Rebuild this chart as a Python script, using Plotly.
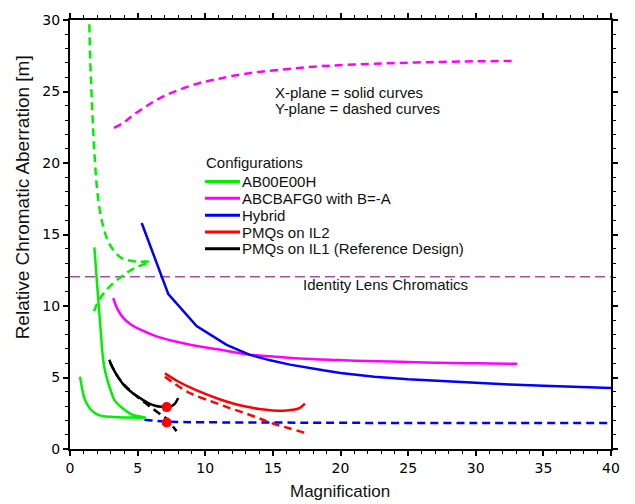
import plotly.graph_objects as go

# ---- data ----
ab_x_solid = [0.74, 0.9, 1.05, 1.23, 1.5, 1.8, 2.07, 2.6, 3.2, 4.0, 4.8, 5.54,
              4.6, 3.82, 3.3, 3.08, 2.8, 2.54, 2.4, 2.29, 2.1, 1.95, 1.8]
ab_y_solid = [5.06, 4.2, 3.6, 3.2, 2.8, 2.55, 2.38, 2.28, 2.24, 2.21, 2.2, 2.2,
              2.4, 2.9, 3.4, 3.9, 4.7, 5.7, 6.7, 8.0, 10.3, 12.2, 14.1]
ab_x_dash = [1.43, 1.5, 1.6, 1.72, 1.85, 2.0, 2.22, 2.5, 2.83, 3.3, 3.82, 4.6, 5.3, 5.9,
             5.0, 4.4, 3.82, 3.2, 2.59, 2.2, 1.95, 1.77]
ab_y_dash = [29.7, 27.0, 24.7, 22.2, 20.0, 18.2, 16.6, 15.4, 14.5, 13.8, 13.35, 13.15, 13.1, 13.1,
             12.75, 12.45, 12.06, 11.6, 11.0, 10.5, 10.05, 9.6]

abc_x_solid = [3.2, 3.5, 3.94, 4.5, 5.17, 6.2, 7.64, 9.5, 11.33, 13.3, 15.0, 17.0, 19.8, 22.0, 24.4, 27.0, 29.3, 31.0, 33.06]
abc_y_solid = [10.55, 9.8, 9.17, 8.7, 8.36, 7.95, 7.55, 7.18, 6.91, 6.6, 6.47, 6.33, 6.22, 6.15, 6.1, 6.04, 6.0, 5.98, 5.96]
abc_x_dash = [3.25, 3.94, 4.6, 5.42, 6.2, 7.15, 8.3, 9.6, 10.8, 12.07, 13.8, 15.77, 17.5, 19.46, 22.0, 24.4, 27.0, 29.3, 31.0, 32.9]
abc_y_dash = [22.45, 22.8, 23.3, 23.84, 24.3, 24.76, 25.2, 25.6, 25.85, 26.1, 26.35, 26.54, 26.7, 26.82, 26.92, 27.0, 27.06, 27.1, 27.12, 27.14]

hyb_x_solid = [5.3, 7.27, 9.36, 11.58, 13.3, 14.8, 16.26, 17.5, 18.72, 20.0, 22.5, 25.0, 27.5, 30.0, 32.5, 35.0, 37.5, 40.0]
hyb_y_solid = [15.8, 10.83, 8.59, 7.28, 6.58, 6.2, 5.9, 5.68, 5.5, 5.32, 5.06, 4.88, 4.74, 4.62, 4.51, 4.42, 4.34, 4.27]
hyb_x_dash = [5.5, 7.0, 10.0, 15.0, 20.0, 30.0, 40.0]
hyb_y_dash = [2.05, 1.92, 1.87, 1.85, 1.83, 1.82, 1.82]

il2_x_solid = [7.02, 8.0, 9.0, 10.0, 11.0, 12.0, 13.0, 14.0, 15.0, 15.8, 16.5, 17.0, 17.37]
il2_y_solid = [5.29, 4.72, 4.25, 3.85, 3.5, 3.2, 2.97, 2.8, 2.7, 2.68, 2.74, 2.88, 3.17]
il2_x_dash = [7.02, 7.5, 8.13, 9.0, 10.6, 12.0, 13.06, 14.0, 15.03, 16.2, 17.37]
il2_y_dash = [5.05, 4.72, 4.32, 3.85, 3.28, 2.8, 2.47, 2.14, 1.77, 1.45, 1.13]

il1_x_solid = [2.9, 3.2, 3.57, 4.0, 4.56, 5.2, 5.79, 6.3, 6.78, 7.15, 7.5, 7.76, 8.0]
il1_y_solid = [6.24, 5.6, 5.01, 4.45, 3.97, 3.55, 3.21, 3.03, 2.95, 2.93, 3.0, 3.17, 3.56]
il1_x_dash = [2.96, 3.08, 3.5, 3.94, 4.6, 5.3, 6.0, 6.78, 7.15, 7.5, 7.88]
il1_y_dash = [6.05, 5.82, 5.1, 4.55, 3.95, 3.4, 2.9, 2.36, 2.1, 1.7, 1.25]

ref_x = [7.15, 7.15]
ref_y = [2.93, 1.85]

identity_x = [0, 40]
identity_y = [12.05, 12.05]

names = ["AB00E00H", "ABCBAFG0 with B=-A", "Hybrid", "PMQs on IL2",
         "PMQs on IL1 (Reference Design)"]
colors = ["#00f000", "#ff00ff", "#0000ff", "#ff0000", "#000000"]
legend_title = "Configurations"
plane_notes = ["X-plane = solid curves", "Y-plane = dashed curves"]
identity_label = "Identity Lens Chromatics"
x_title = "Magnification"
y_title = "Relative Chromatic Aberration [m]"

solid = [(ab_x_solid, ab_y_solid), (abc_x_solid, abc_y_solid), (hyb_x_solid, hyb_y_solid),
         (il2_x_solid, il2_y_solid), (il1_x_solid, il1_y_solid)]
dashed = [(ab_x_dash, ab_y_dash), (abc_x_dash, abc_y_dash), (hyb_x_dash, hyb_y_dash),
          (il2_x_dash, il2_y_dash), (il1_x_dash, il1_y_dash)]

# ---- layout geometry ----
W, H = 635, 504
ML, MR, MT, MB = 70, 24, 16, 55
PW, PH = W - ML - MR, H - MT - MB


def px(xp):
    return (xp - ML) / PW


def py(yp):
    return (H - MB - yp) / PH


fig = go.Figure()

fig.add_trace(go.Scatter(x=identity_x, y=identity_y, mode="lines",
                         line=dict(color="#a050a0", width=1.4, dash="10px,5px"),
                         showlegend=False, hoverinfo="skip"))

for (xs, ys), c in zip(dashed, colors):
    fig.add_trace(go.Scatter(x=xs, y=ys, mode="lines", line_shape="spline",
                             line=dict(color=c, width=2.5, dash="8px,5px"),
                             showlegend=False))

for (xs, ys), c, n in zip(solid, colors, names):
    shape = "linear" if n == "Hybrid" else "spline"
    fig.add_trace(go.Scatter(x=xs, y=ys, mode="lines", name=n, line_shape=shape,
                             line=dict(color=c, width=2.5), showlegend=False))

fig.add_trace(go.Scatter(x=ref_x, y=ref_y, mode="markers",
                         marker=dict(color="#ff0000", size=10),
                         showlegend=False))

font_main = "Liberation Sans, Arial, sans-serif"
tfont = dict(family=font_main, size=15, color="#111")

# plane notes
for i, t in enumerate(plane_notes):
    fig.add_annotation(x=px(273), y=py(89 + 16 * i), xref="paper", yref="paper",
                       xanchor="left", yanchor="middle", showarrow=False, text=t, font=tfont)

# identity label
fig.add_annotation(x=px(385), y=py(283), xref="paper", yref="paper",
                   xanchor="center", yanchor="middle", showarrow=False,
                   text=identity_label, font=tfont)

# legend (title + entries)
fig.add_annotation(x=px(204), y=py(160), xref="paper", yref="paper",
                   xanchor="left", yanchor="middle", showarrow=False,
                   text=legend_title, font=tfont)
for i, (n, c) in enumerate(zip(names, colors)):
    yy = 179 + 17 * i
    fig.add_shape(type="line", xref="paper", yref="paper",
                  x0=px(205), x1=px(240), y0=py(yy), y1=py(yy),
                  line=dict(color=c, width=3))
    fig.add_annotation(x=px(240), y=py(yy), xref="paper", yref="paper",
                       xanchor="left", yanchor="middle", showarrow=False,
                       text=n, font=tfont)

# axis titles
fig.add_annotation(x=px(340), y=py(492), xref="paper", yref="paper",
                   xanchor="center", yanchor="middle", showarrow=False,
                   text=x_title, font=dict(family=font_main, size=17, color="#111"))
fig.add_annotation(x=px(22), y=py(195), xref="paper", yref="paper",
                   xanchor="center", yanchor="middle", showarrow=False, textangle=-90,
                   text=y_title, font=dict(family=font_main, size=19, color="#111"))

axis_common = dict(showline=True, linecolor="black", linewidth=2, mirror="ticks",
                   ticks="outside", ticklen=5, tickwidth=1.5, tickcolor="black",
                   showgrid=False, zeroline=False,
                   tickfont=dict(family="DejaVu Sans, Verdana, sans-serif", size=14, color="#000"),
                   minor=dict(ticks="outside", ticklen=3, tickwidth=1, tickcolor="black", dtick=1))

fig.update_xaxes(range=[0, 40], dtick=5, tick0=0, **axis_common)
fig.update_yaxes(range=[0, 30], dtick=5, tick0=0, **axis_common)

fig.update_layout(
    width=W, height=H,
    margin=dict(l=ML, r=MR, t=MT, b=MB),
    paper_bgcolor="white", plot_bgcolor="white",
    showlegend=False,
)

fig.write_html("out.html")
